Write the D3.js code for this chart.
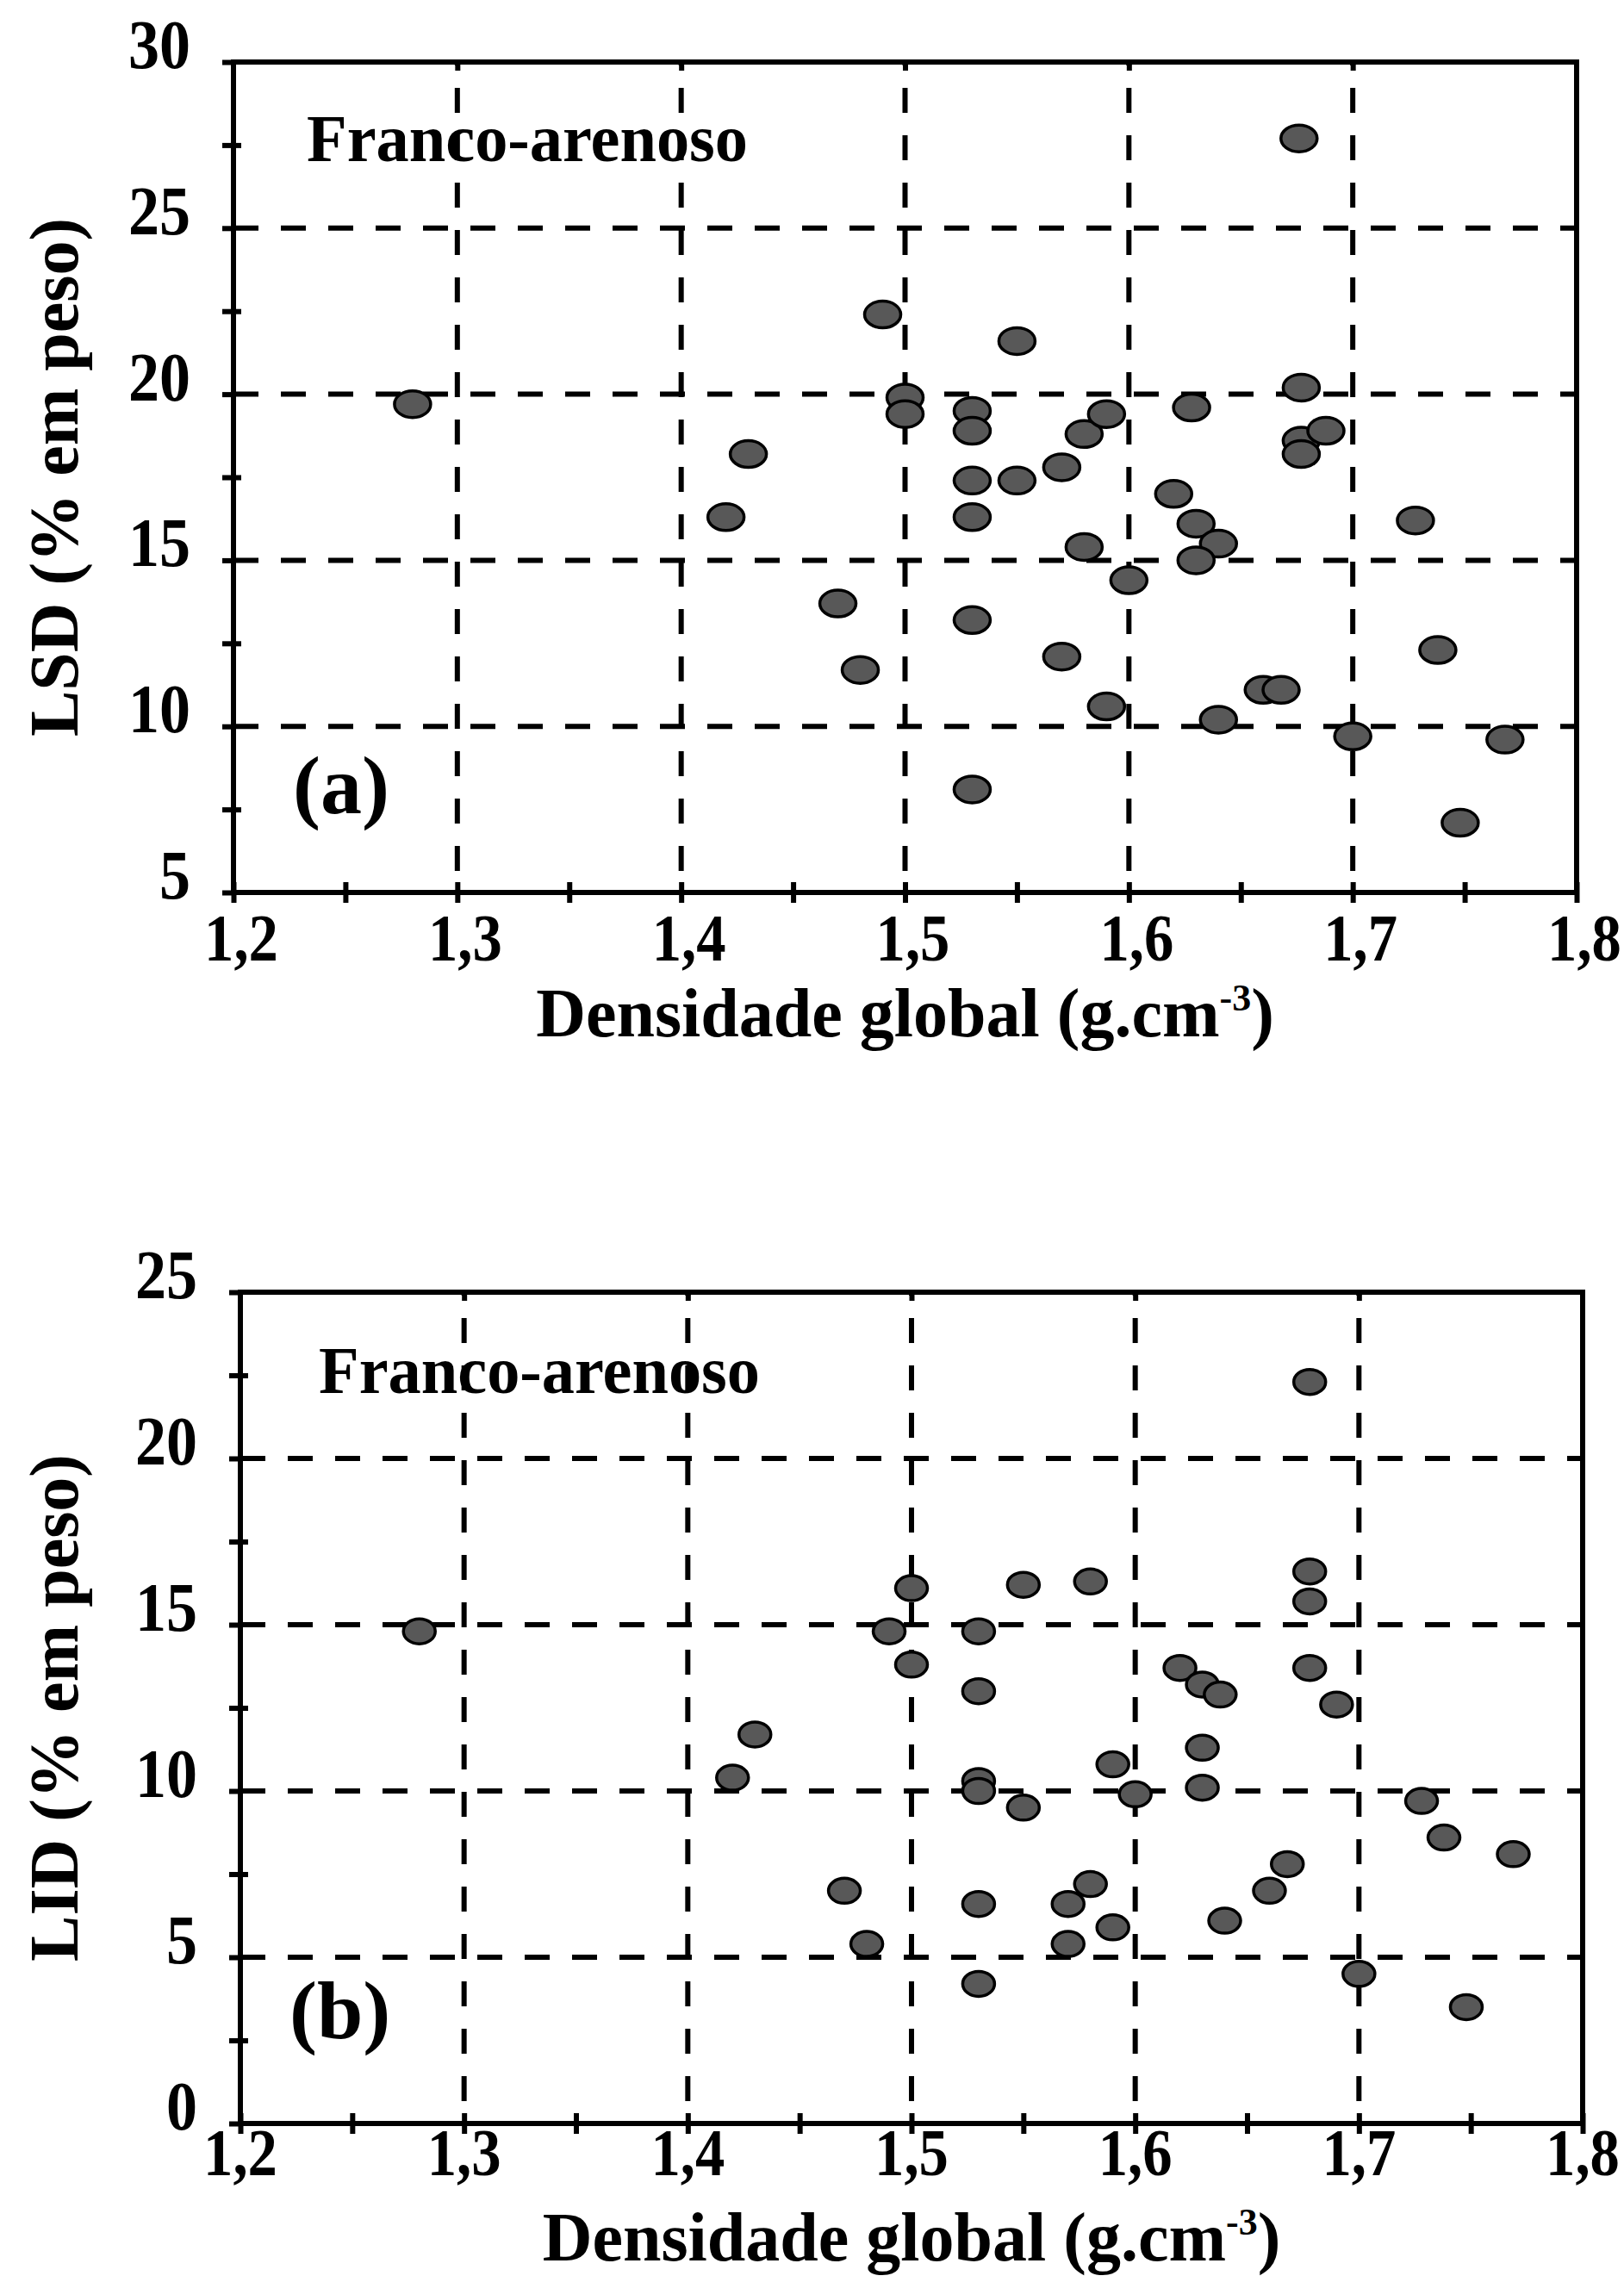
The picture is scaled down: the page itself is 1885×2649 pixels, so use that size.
<!DOCTYPE html>
<html><head><meta charset="utf-8">
<script src="https://cdn.jsdelivr.net/npm/d3@7"></script>
<style>html,body{margin:0;padding:0;background:#fff;} svg{display:block}</style>
</head><body>
<svg id="chart" width="1885" height="2649"></svg>
<script>
// ---- data ----
const densA = [1.28,1.42,1.43,1.47,1.48,1.49,1.50,1.50,1.53,1.53,1.53,1.53,1.53,1.53,1.55,1.55,1.57,1.57,1.58,1.58,1.59,1.59,1.60,1.628,1.62,1.63,1.64,1.63,1.64,1.66,1.668,1.676,1.677,1.677,1.677,1.688,1.70,1.728,1.738,1.748,1.768];
const lsd   = [19.7,16.3,18.2,13.7,11.7,22.4,19.9,19.4,19.5,18.9,17.4,16.3,13.2,8.1,21.6,17.4,17.8,12.1,18.8,15.4,19.4,10.6,14.4,19.6,17.0,16.1,15.5,15.0,10.2,11.1,11.1,27.7,20.2,18.6,18.2,18.9,9.7,16.2,12.3,7.1,9.6];

const densB = [1.28,1.42,1.43,1.47,1.48,1.49,1.50,1.50,1.53,1.53,1.53,1.53,1.53,1.53,1.55,1.55,1.57,1.57,1.58,1.58,1.59,1.59,1.60,1.62,1.63,1.638,1.63,1.63,1.64,1.66,1.668,1.678,1.678,1.678,1.678,1.69,1.70,1.728,1.738,1.748,1.769];
const lid   = [14.8,10.4,11.7,7.0,5.4,14.8,16.1,13.8,14.8,13.0,10.3,10.0,6.6,4.2,16.2,9.5,6.6,5.4,16.3,7.2,10.8,5.9,9.9,13.7,13.2,12.9,11.3,10.1,6.1,7.0,7.8,22.3,16.6,15.7,13.7,12.6,4.5,9.7,8.6,3.5,8.1];

const xTicks = [1.2,1.3,1.4,1.5,1.6,1.7,1.8];
const xTickLabels = ["1,2","1,3","1,4","1,5","1,6","1,7","1,8"];
const xMinor = [1.25,1.35,1.45,1.55,1.65,1.75];
const yTicksA = [5,10,15,20,25,30];
const yMinorA = [7.5,12.5,17.5,22.5,27.5];
const yTicksB = [0,5,10,15,20,25];
const yMinorB = [2.5,7.5,12.5,17.5,22.5];
const yTitles = ["LSD (% em peso)","LID (% em peso)"];
const xTitle = "Densidade global (g.cm";
const soilLabel = "Franco-arenoso";
const panelLabels = ["(a)","(b)"];

const svg = d3.select("#chart");
svg.append("rect").attr("width",1885).attr("height",2649).attr("fill","#fff");
const FONT = "'Liberation Serif', 'Times New Roman', serif";

const panels = [
  {xs: densA, ys: lsd, yDom:[5,30], xr:[271,1830], yr:[1036,72], yTicks:yTicksA, yMinor:yMinorA,
   yTitle:yTitles[0], label:panelLabels[0], xLabDx:9, xLabDy:79, xTitleY:1203, yTitleX:90,
   soilX:356, soilY:187, labX:340, labY:944, rx:21, ry:15.5},
  {xs: densB, ys: lid, yDom:[0,25], xr:[279,1837], yr:[2465,1500], yTicks:yTicksB, yMinor:yMinorB,
   yTitle:yTitles[1], label:panelLabels[1], xLabDx:0, xLabDy:60, xTitleY:2624, yTitleX:90,
   soilX:370, soilY:1617, labX:336, labY:2366, rx:18.5, ry:14.5}
];

panels.forEach(p => {
  const x = d3.scaleLinear().domain([1.2,1.8]).range(p.xr);
  const y = d3.scaleLinear().domain(p.yDom).range(p.yr);
  const g = svg.append("g");
  const [x0,x1] = p.xr, yb = p.yr[0], yt = p.yr[1];

  // dashed grid lines
  const innerY = p.yTicks.filter(v => v !== p.yDom[0] && v !== p.yDom[1]);
  const innerX = xTicks.filter(v => v !== 1.2 && v !== 1.8);
  g.selectAll(".hg").data(innerY).join("line")
    .attr("x1", x0).attr("x2", x1).attr("y1", d => y(d)).attr("y2", d => y(d))
    .attr("stroke","#000").attr("stroke-width",6).attr("stroke-dasharray","29,26");
  g.selectAll(".vg").data(innerX).join("line")
    .attr("x1", d => x(d)).attr("x2", d => x(d)).attr("y1", yt).attr("y2", yb)
    .attr("stroke","#000").attr("stroke-width",6).attr("stroke-dasharray","29,26")
    .attr("stroke-dashoffset", -30);

  // points
  g.selectAll(".pt").data(p.xs.map((v,i)=>[v,p.ys[i]])).join("ellipse")
    .attr("cx", d => x(d[0])).attr("cy", d => y(d[1]))
    .attr("rx", p.rx).attr("ry", p.ry)
    .attr("fill","#585858").attr("stroke","#000").attr("stroke-width",3.5);

  // frame
  g.append("rect").attr("x",x0).attr("y",yt).attr("width",x1-x0).attr("height",yb-yt)
    .attr("fill","none").attr("stroke","#000").attr("stroke-width",6);

  // ticks via d3 axes
  const bottom = g.append("g").attr("transform",`translate(0,${yb})`)
    .call(d3.axisBottom(x).tickValues(xTicks.concat(xMinor)).tickSize(12).tickFormat(""));
  const bottomIn = g.append("g").attr("transform",`translate(0,${yb})`)
    .call(d3.axisTop(x).tickValues(xTicks.concat(xMinor)).tickSize(12).tickFormat(""));
  const left = g.append("g").attr("transform",`translate(${x0},0)`)
    .call(d3.axisLeft(y).tickValues(p.yTicks.concat(p.yMinor)).tickSize(13).tickFormat(""));
  const leftIn = g.append("g").attr("transform",`translate(${x0},0)`)
    .call(d3.axisRight(y).tickValues(p.yMinor).tickSize(9).tickFormat(""));
  const topIn = g.append("g").attr("transform",`translate(0,${yt})`)
    .call(d3.axisBottom(x).tickValues(innerX).tickSize(10).tickFormat(""));
  [bottom,bottomIn,left,leftIn,topIn].forEach(a => {
    a.select(".domain").remove();
    a.selectAll("line").attr("stroke","#000").attr("stroke-width",6);
  });

  // y tick labels
  p.yTicks.forEach(v => {
    g.append("text").attr("transform",`translate(${x0-50},${y(v)+7}) scale(0.9,1)`)
      .attr("text-anchor","end").attr("font-family",FONT).attr("font-weight","bold")
      .attr("font-size",80).attr("fill","#000").text(v);
  });
  // x tick labels
  xTicks.forEach((v,i) => {
    g.append("text").attr("transform",`translate(${x(v)+p.xLabDx},${yb+p.xLabDy}) scale(0.88,1)`)
      .attr("text-anchor","middle").attr("font-family",FONT).attr("font-weight","bold")
      .attr("font-size",78).attr("fill","#000").text(xTickLabels[i]);
  });

  // x title
  const xt = g.append("text").attr("x",(x0+x1)/2).attr("y",p.xTitleY)
    .attr("text-anchor","middle").attr("font-family",FONT).attr("font-weight","bold")
    .attr("font-size",80).attr("fill","#000");
  xt.append("tspan").text(xTitle);
  xt.append("tspan").attr("font-size",44).attr("dy",-30).text("-3");
  xt.append("tspan").attr("dy",30).text(")");

  // y title
  g.append("text").attr("transform",`translate(${p.yTitleX},${(yt+yb)/2}) rotate(-90)`)
    .attr("text-anchor","middle").attr("font-family",FONT).attr("font-weight","bold")
    .attr("font-size",80).attr("fill","#000").text(p.yTitle);

  // soil label
  g.append("text").attr("x",p.soilX).attr("y",p.soilY)
    .attr("font-family",FONT).attr("font-weight","bold").attr("font-size",78)
    .attr("textLength",512).attr("lengthAdjust","spacingAndGlyphs")
    .attr("fill","#000").text(soilLabel);

  // panel label
  g.append("text").attr("x",p.labX).attr("y",p.labY)
    .attr("font-family",FONT).attr("font-weight","bold").attr("font-size",96)
    .attr("fill","#000").text(p.label);
});
</script>
</body></html>
